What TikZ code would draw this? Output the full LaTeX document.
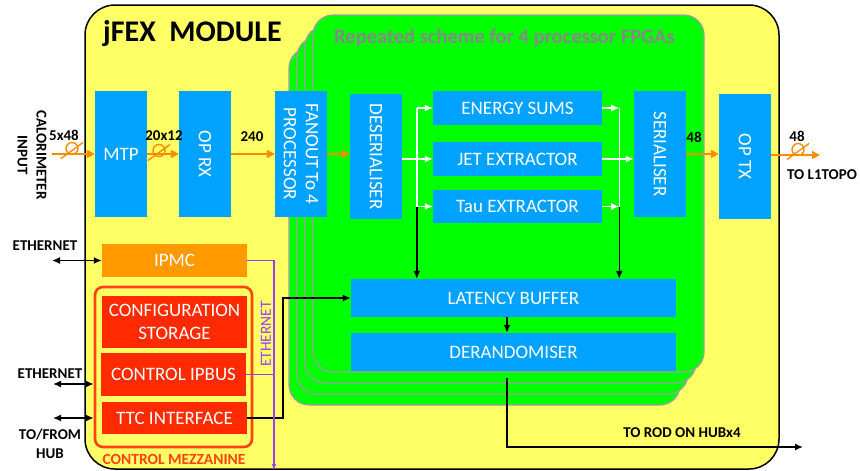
\documentclass[tikz,border=0pt]{standalone}
\usepackage{fontspec}
\setmainfont{Carlito}
\usepackage{tikz}
\usetikzlibrary{arrows.meta,positioning,calc}
\definecolor{Board}{HTML}{FFFF66}
\definecolor{Fpga}{HTML}{00FF00}
\definecolor{Edge}{HTML}{A0A0A0}
\definecolor{Note}{HTML}{888888}
\definecolor{Chip}{HTML}{00A2FF}
\definecolor{Ipmc}{HTML}{FF9900}
\definecolor{Mezz}{HTML}{FF2A00}
\definecolor{MezzEdge}{HTML}{FF4214}
\definecolor{Fibre}{HTML}{FF8C00}
\definecolor{Eth}{HTML}{9940FF}
\tikzset{
  chip/.style={fill=Chip,inner sep=0pt,text=white,font=\fontsize{19}{23}\selectfont,align=center},
  vchip/.style={chip,minimum width=52pt,minimum height=126pt},
  hchip/.style={chip,minimum width=169pt,minimum height=34pt},
  wchip/.style={chip,minimum width=325pt,minimum height=38pt},
  mchip/.style={chip,fill=Mezz,minimum width=145pt},
  vtext/.style={rotate=-90,text=white,font=\fontsize{19}{22}\selectfont,align=center,inner sep=0pt},
  layer/.style={draw=Edge,fill=Fpga,line width=1.2pt,rounded corners=20pt},
  fibre/.style={-{Triangle[length=8pt,width=8pt]},draw=Fibre,line width=1.6pt},
  loop/.style={draw=Fibre,line width=1.4pt},
  wire/.style={-{Latex[length=8pt,width=7pt]},line width=1.4pt},
  bus/.style={wire,draw=white},
  biwire/.style={{Latex[length=8pt,width=7pt]}-{Latex[length=8pt,width=7pt]},line width=1.4pt},
  eth/.style={draw=Eth,line width=1.3pt},
  tag/.style={font=\bfseries\fontsize{15}{19}\selectfont,align=center,inner sep=0pt}
}
% fibre bundle sign: loop over the line with a slash
\newcommand{\fibreloop}[1]{\draw[loop] #1 circle (6pt) ++(-11,10) -- ++(22,-16);}

\begin{document}
\begin{tikzpicture}[x=1pt,y=-1pt]
  \useasboundingbox (0,0) rectangle (860,471);
  % board
  \draw[fill=Board,line width=1.5pt,rounded corners=30pt] (85,5) rectangle (779,469);
  \node[anchor=base west,font=\bfseries\fontsize{30}{32}\selectfont,inner sep=0pt] (title) at (103,41) {jFEX~~MODULE};
  % four processor FPGAs
  \foreach \k in {3,2,1,0}
    \draw[layer] ({313-8*\k},{15+11*\k}) rectangle ({704-8*\k},{372+11*\k});
  \node[anchor=base west,text=Note,font=\bfseries\fontsize{20.5}{22}\selectfont,inner sep=0pt] (repeat) at (334,43) {Repeated scheme for 4 processor FPGAs};

  % data path
  \node[vchip] (mtp) at (121,154) {MTP};
  \node[vchip,label={[vtext]center:OP RX}] (oprx) at (205,154) {};
  \node[vchip,label={[vtext]center:{FANOUT To 4\\PROCESSOR}}] (fanout) at (301,154) {};
  \node[vchip,minimum height=125pt,label={[vtext]center:DESERIALISER}] (deser) at (376,156.5) {};
  \node[hchip] (energy) at (517.5,108) {ENERGY SUMS};
  \node[hchip] (jet) at (517.5,159) {JET EXTRACTOR};
  \node[hchip,minimum height=33pt] (tau) at (517.5,206.5) {Tau EXTRACTOR};
  \node[vchip,label={[vtext]center:SERIALISER}] (serial) at (660,154) {};
  \node[vchip,minimum height=125pt,label={[vtext]center:OP TX}] (optx) at (745,156.5) {};
  \node[wchip] (latency) at (513.5,298) {LATENCY BUFFER};
  \node[wchip] (derand) at (513.5,352) {DERANDOMISER};

  % control side
  \node[chip,fill=Ipmc,minimum width=145pt,minimum height=33pt] (ipmc) at (174.5,260.5) {IPMC};
  \node[draw=MezzEdge,line width=2.6pt,rounded corners=8pt,minimum width=157pt,minimum height=160pt] (mezz) at (173.5,367) {};
  \node[mchip,minimum height=52pt] (config) at (174.5,322) {CONFIGURATION\\STORAGE};
  \node[mchip,minimum height=43pt] (ipbus) at (173.5,374.5) {CONTROL IPBUS};
  \node[mchip,minimum height=32pt] (ttc) at (174.5,418) {TTC INTERFACE};
  \node[tag,text=MezzEdge,font=\bfseries\fontsize{15.5}{17}\selectfont] (mezzname) at (174,459) {CONTROL MEZZANINE};

  % optical links
  \coordinate (calin) at (52,154);
  \coordinate (topo) at (820,155);
  \draw[fibre] (calin) -- (mtp.west);
  \draw[fibre] (mtp.east) -- (oprx.west);
  \draw[fibre] (oprx.east) -- (fanout.west);
  \draw[fibre] (fanout.east) -- (fanout.east -| deser.west);
  \draw[fibre] (serial.east) -- (serial.east -| optx.west);
  \draw[fibre] (optx.east |- topo) -- (topo);
  \fibreloop{(72,148.5)}
  \fibreloop{(159,150.5)}
  \fibreloop{(798,149.5)}
  \node[tag] (n5x48) at (64,135) {5x48};
  \node[tag] (n20x12) at (164,136) {20x12};
  \node[tag] (n240) at (252,137) {240};
  \node[tag] (n48a) at (694,137) {48};
  \node[tag] (n48b) at (797,136) {48};
  \node[tag] (toponame) at (822,175) {TO L1TOPO};
  \node[tag,rotate=-90] (calname) at (32,155) {CALORIMETER\\INPUT};

  % inside the FPGA
  \draw[bus] (deser.east |- jet.west) -- (jet.west);
  \draw[white,line width=1.4pt] ([xshift=-16pt]energy.west) -- ([xshift=-16pt]tau.west);
  \draw[bus] ([xshift=-16pt]energy.west) -- (energy.west);
  \draw[bus] ([xshift=-16pt]tau.west) -- (tau.west);
  \draw[white,line width=1.4pt] ([xshift=17pt]energy.east) -- ([xshift=17pt]tau.east);
  \draw[bus] (energy.east) -- ([xshift=17pt]energy.east);
  \draw[bus] (tau.east) -- ([xshift=17pt]tau.east);
  \draw[bus] (jet.east) -- (jet.east -| serial.west);
  \draw[wire] ([xshift=-16pt]tau.west) -- ([xshift=-16pt]tau.west |- latency.north);
  \draw[wire] ([xshift=17pt]tau.east) -- ([xshift=17pt]tau.east |- latency.north);
  \draw[wire] ([xshift=-6.5pt]latency.south) -- ([xshift=-6.5pt]derand.north);
  \coordinate (rodout) at (803,447);
  \draw[wire] ([xshift=-6.5pt,yshift=-7pt]derand.south) |- (rodout);
  \node[tag] (rodname) at (682,433) {TO ROD ON HUBx4};
  \draw[wire] (ttc.east) -| ([xshift=-68pt]latency.west) -- (latency.west);

  % ethernet
  \coordinate (ethout) at (274,470);
  \draw[eth,-{Latex[length=6pt,width=5pt]}] (ipmc.east) -| (ethout);
  \draw[eth] (ipbus.east) -- (ipbus.east -| ethout);
  \node[rotate=90,text=Eth,font=\fontsize{15.5}{17}\selectfont,inner sep=0pt] (ethname) at (266,334) {ETHERNET};

  % outside connections
  \coordinate (ethA) at (52,260.5);
  \coordinate (ethB) at (53,384);
  \coordinate (hub) at (53,418);
  \draw[biwire] (ethA) -- (ipmc.west);
  \draw[biwire] (ethB) -- (ethB -| mezz.west);
  \draw[biwire] (hub) -- (hub -| mezz.west);
  \node[tag] (ethAname) at (45,246) {ETHERNET};
  \node[tag] (ethBname) at (50,374) {ETHERNET};
  \node[tag] (hubname) at (50,444) {TO/FROM\\HUB};
\end{tikzpicture}
\end{document}
